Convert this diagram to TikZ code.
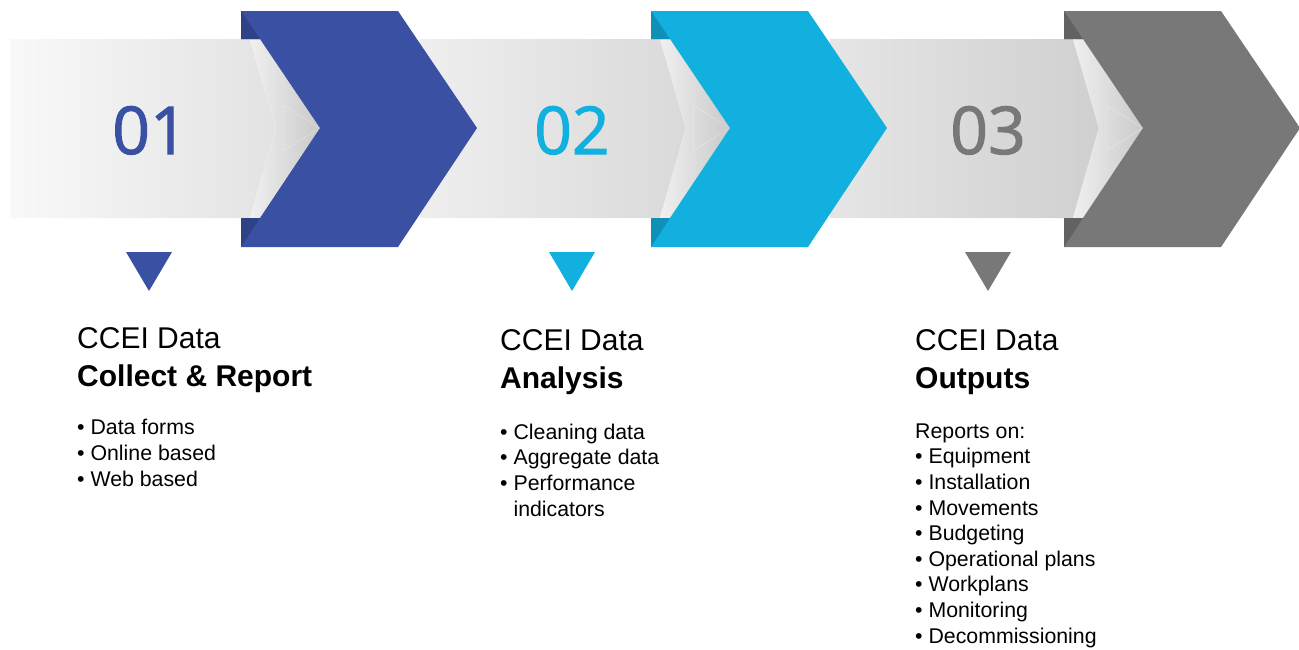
\documentclass[tikz,border=0pt]{standalone}
\usepackage{fontspec}
\setmainfont{Liberation Sans}
\newfontfamily\digitfont[FakeBold=1.6]{Open Sans}
\usetikzlibrary{positioning}

\definecolor{stepblue}{HTML}{3A50A3}
\definecolor{stepcyan}{HTML}{12B0DF}
\definecolor{stepgrey}{HTML}{787878}

\begin{document}
\begin{tikzpicture}[x=1pt,y=-1pt,
  number/.style={anchor=base,inner sep=0pt,font=\digitfont\fontsize{66}{66}\selectfont},
  heading/.style={anchor=base west,align=left,inner sep=0pt,font=\fontsize{30}{38}\selectfont},
  items/.style={anchor=base west,align=left,inner sep=0pt,font=\fontsize{21.3}{25.6}\selectfont}]
  \useasboundingbox (0,0) rectangle (1299,649);

  % grey bands, each one ends in a point under the next chevron
  \foreach \s/\L/\cl/\cr in {10/241/gray!5/gray!25, 420/651/gray!13/gray!32, 830/1064/gray!20/gray!40}{
    \shade[left color=\cl,right color=\cr]
      (\s,39) -- (\L+19,39) -- (\L+79,128) -- (\L+19,218) -- (\s,218) -- cycle;
    % folded end of the band
    \shade[left color=gray!12,right color=gray!42]
      (\L+9,39) -- (\L+19,39) -- (\L+79,128) -- (\L+19,218) -- (\L+9,218) -- (\L+35,128) -- cycle;
    \draw[white,opacity=.35,line width=.5pt]
      (\L+9,39) -- (\L+35,128) -- (\L+9,218)
      (\L+42,105) -- (\L+79,128) -- (\L+42,151) -- cycle;
  }

  % chevrons
  \foreach \L/\c in {241/stepblue, 651/stepcyan, 1064/stepgrey}{
    \fill[\c] (\L,11) -- (\L+157,11) -- (\L+236,128) -- (\L+157,247) -- (\L,247)
      -- (\L,218) -- (\L+19,218) -- (\L+79,128) -- (\L+19,39) -- (\L,39) -- cycle;
    \fill[\c!82!black] (\L,11) -- (\L+19,39) -- (\L,39) -- cycle;
    \fill[\c!82!black] (\L,247) -- (\L+19,218) -- (\L,218) -- cycle;
  }

  \node[number,text=stepblue] (num1) at (150,154) {01};
  \node[number,text=stepcyan] (num2) at (572,154) {02};
  \node[number,text=stepgrey] (num3) at (988,154) {03};

  % markers under the numbers
  \fill[stepblue] (126,252) -- (172,252) -- (149,291) -- cycle;
  \fill[stepcyan] (549,252) -- (595,252) -- (572,291) -- cycle;
  \fill[stepgrey] (965,252) -- (1011,252) -- (988,291) -- cycle;

  % base of a stacked node is its last line
  \node[heading] (head1) at (77,386) {CCEI Data\\\textbf{Collect \& Report}};
  \node[heading] (head2) at (500,388) {CCEI Data\\\textbf{Analysis}};
  \node[heading] (head3) at (915,388) {CCEI Data\\\textbf{Outputs}};

  \node[items] (list1) at (77,486) {• Data forms\\• Online based\\• Web based};
  \node[items] (list2) at (500,516) {• Cleaning data\\• Aggregate data\\• Performance\\\hphantom{• }indicators};
  \node[items] (list3) at (915,643) {Reports on:\\• Equipment\\• Installation\\• Movements\\• Budgeting\\• Operational plans\\• Workplans\\• Monitoring\\• Decommissioning};
\end{tikzpicture}
\end{document}
